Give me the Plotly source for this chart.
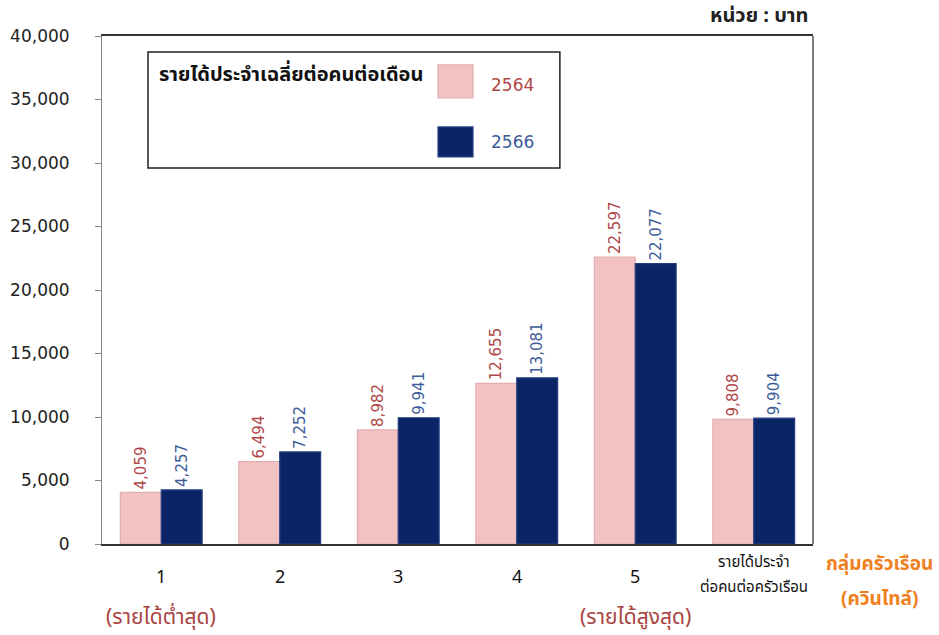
import plotly.graph_objects as go

categories = ["1", "2", "3", "4", "5", "รายได้ประจำ<br>ต่อคนต่อครัวเรือน"]
values_2564 = [4059, 6494, 8982, 12655, 22597, 9808]
values_2566 = [4257, 7252, 9941, 13081, 22077, 9904]
series_names = ["2564", "2566"]
y_ticks = [0, 5000, 10000, 15000, 20000, 25000, 30000, 35000, 40000]

PINK = "#F2C2C2"
NAVY = "#0B2466"
RED_TXT = "#B0484A"
BLUE_TXT = "#3C5C99"
ORANGE = "#F07F1E"
THAI = "Tahoma, 'Noto Sans Thai', 'Noto Sans Thai Looped', 'Leelawadee UI', 'DejaVu Sans', sans-serif"
NUM = "'DejaVu Sans', Verdana, sans-serif"

fig = go.Figure()
fig.add_trace(go.Bar(
    x=categories, y=values_2564, name=series_names[0],
    marker=dict(color=PINK, line=dict(color="#E2AEAE", width=1.2)),
    text=[f"{v:,}" for v in values_2564], textposition="outside", textangle=-90,
    constraintext="none",
    outsidetextfont=dict(color=RED_TXT, size=15, family=NUM), cliponaxis=False,
))
fig.add_trace(go.Bar(
    x=categories, y=values_2566, name=series_names[1],
    marker=dict(color=NAVY, line=dict(color="#253F80", width=1.2)),
    text=[f"{v:,}" for v in values_2566], textposition="outside", textangle=-90,
    constraintext="none",
    outsidetextfont=dict(color=BLUE_TXT, size=15, family=NUM), cliponaxis=False,
))

annotations = []
# x category labels
for i, c in enumerate(categories):
    if "<br>" in c:
        lines = c.split("<br>")
        for j, ln in enumerate(lines):
            annotations.append(dict(x=i, y=-0.037 - 0.049 * j, xref="x", yref="paper", text=ln,
                                    showarrow=False, xanchor="center", yanchor="middle",
                                    font=dict(size=15, color="#111", family=THAI)))
    else:
        annotations.append(dict(x=i, y=-0.065, xref="x", yref="paper", text=c, showarrow=False,
                                xanchor="center", yanchor="middle",
                                font=dict(size=18, color="#111", family=THAI)))
annotations.append(dict(x=0, y=-0.144, xref="x", yref="paper", text="(รายได้ต่ำสุด)", yanchor="middle",
                        xanchor="center", showarrow=False, font=dict(size=21, color="#A8433F", family=THAI)))
annotations.append(dict(x=4, y=-0.144, xref="x", yref="paper", text="(รายได้สูงสุด)", yanchor="middle",
                        xanchor="center", showarrow=False, font=dict(size=21, color="#A8433F", family=THAI)))
annotations.append(dict(x=1.094, y=-0.041, xref="paper", yref="paper", text="<b>กลุ่มครัวเรือน</b>",
                        xanchor="center", yanchor="middle", showarrow=False,
                        font=dict(size=19, color=ORANGE, family=THAI)))
annotations.append(dict(x=1.094, y=-0.110, xref="paper", yref="paper", text="<b>(ควินไทล์)</b>",
                        xanchor="center", yanchor="middle", showarrow=False,
                        font=dict(size=19, color=ORANGE, family=THAI)))
# unit
annotations.append(dict(x=0.996, y=1.039, xref="paper", yref="paper", text="<b>หน่วย : บาท</b>",
                        yanchor="middle", showarrow=False, xanchor="right",
                        font=dict(size=20, color="#222", family=THAI)))
# legend texts
annotations.append(dict(x=0.0777, y=0.923, xref="paper", yref="paper", text="<b>รายได้ประจำเฉลี่ยต่อคนต่อเดือน</b>",
                        yanchor="middle", showarrow=False, xanchor="left",
                        font=dict(size=20, color="#111", family=THAI)))
annotations.append(dict(x=0.545, y=0.9035, xref="paper", yref="paper", text=series_names[0],
                        yanchor="middle", showarrow=False, xanchor="left",
                        font=dict(size=17, color=RED_TXT, family=NUM)))
annotations.append(dict(x=0.545, y=0.791, xref="paper", yref="paper", text=series_names[1],
                        yanchor="middle", showarrow=False, xanchor="left",
                        font=dict(size=17, color=BLUE_TXT, family=NUM)))

shapes = [
    # legend box
    dict(type="rect", xref="paper", yref="paper", x0=0.0647, x1=0.644, y0=0.740, y1=0.9685,
         line=dict(color="#222", width=1.5), fillcolor="rgba(255,255,255,0)"),
    dict(type="rect", xref="paper", yref="paper", x0=0.4726, x1=0.5218, y0=0.878, y1=0.943,
         line=dict(color="#E2AEAE", width=1.2), fillcolor=PINK),
    dict(type="rect", xref="paper", yref="paper", x0=0.4726, x1=0.5218, y0=0.762, y1=0.821,
         line=dict(color="#253F80", width=1.2), fillcolor=NAVY),
    # right frame
    dict(type="line", xref="paper", yref="paper", x0=1, x1=1, y0=0, y1=1,
         line=dict(color="#555", width=1.5)),
]

fig.update_layout(
    width=939, height=635,
    margin=dict(l=102, r=126, t=36, b=91),
    paper_bgcolor="white", plot_bgcolor="white",
    barmode="group", bargap=0.31, bargroupgap=0,
    showlegend=False,
    font=dict(family=NUM, color="#222"),
    annotations=annotations, shapes=shapes,
    xaxis=dict(type="category", showticklabels=False, showline=True, linecolor="#333", linewidth=1.5,
               mirror=True, ticks="", showgrid=False, automargin=False),
    yaxis=dict(range=[0, 40000], tickvals=y_ticks, tickformat=",", showline=True, automargin=False,
               linecolor="#888", linewidth=1, ticks="outside", ticklen=6, tickcolor="#888",
               ticklabelstandoff=22,
               showgrid=False, zeroline=False, tickfont=dict(size=17, color="#222", family=NUM)),
)

fig.write_html("out.html", config={"displayModeBar": False},
               post_script="document.body.style.margin='0';document.body.style.overflow='hidden';")
